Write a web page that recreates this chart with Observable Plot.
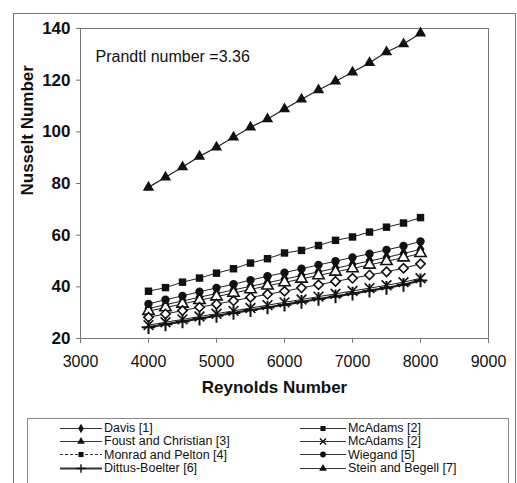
<!DOCTYPE html>
<html><head><meta charset="utf-8">
<script src="https://cdn.jsdelivr.net/npm/d3@7"></script>
<script src="https://cdn.jsdelivr.net/npm/@observablehq/plot@0.6"></script>
<style>
body{margin:0;background:#fff;font-family:"Liberation Sans",Arial,sans-serif;}
#wrap{position:relative;width:517px;height:483px;overflow:hidden;background:#fff;}
#chart{position:absolute;left:0;top:0;}
#outer{position:absolute;left:13px;top:13px;width:501px;height:480px;border:1px solid #777;border-bottom:none;pointer-events:none;}
#legend{position:absolute;left:27px;top:418px;width:480px;height:80px;border:1px solid #888;}
.item{position:absolute;font-size:12.5px;line-height:12px;color:#111;display:flex;align-items:center;white-space:nowrap;height:12px;}
.item svg{display:block;margin-right:2px;}
</style></head><body>
<div id="wrap"><div id="chart"></div><div id="outer"></div><div id="legend"></div></div>
<script>
// ---- data ----
const reynolds = [4000,4250,4500,4750,5000,5250,5500,5750,6000,6250,6500,6750,7000,7250,7500,7750,8000];
const steinBegell   = [78.5,82.4,86.4,90.5,94.0,97.9,101.8,105.0,108.8,112.6,116.2,119.6,123.1,126.7,130.9,134.0,138.2];
const mcAdamsSquare = [38.3,39.7,41.8,43.4,45.3,47.0,49.2,50.9,53.1,54.1,56.0,58.0,59.3,61.2,63.1,64.7,66.8];
const wiegand       = [33.4,35.0,36.5,38.1,39.6,41.0,42.6,44.1,45.5,47.0,48.5,49.9,51.4,52.8,54.3,55.8,57.6];
const davis         = [31.6,33.1,34.5,36.0,37.4,38.8,40.2,41.6,43.0,44.4,45.8,47.2,48.6,50.0,51.4,52.9,54.5];
const foustChristian= [30.6,32.0,33.4,34.8,36.2,37.6,39.0,40.4,41.7,43.1,44.4,45.8,47.1,48.5,49.9,51.3,53.0];
const monradPelton  = [28.2,29.5,30.8,32.1,33.3,34.6,35.9,37.1,38.3,39.6,40.8,42.1,43.3,44.6,45.8,47.2,48.9];
const mcAdamsX      = [25.2,26.3,27.4,28.5,29.6,30.7,31.8,32.9,34.0,35.1,36.2,37.3,38.4,39.5,40.6,41.8,43.3];
const dittusBoelter = [24.4,25.5,26.6,27.7,28.8,29.9,31.0,32.0,33.1,34.2,35.3,36.3,37.4,38.5,39.6,40.8,42.5];
const xTicks = [3000,4000,5000,6000,7000,8000,9000];
const yTicks = [20,40,60,80,100,120,140];
const seriesNames = ["Davis [1]","McAdams [2]","Foust and Christian [3]","McAdams [2]","Monrad and Pelton [4]","Wiegand [5]","Dittus-Boelter [6]","Stein and Begell [7]"];

// style per series (order = legend order)
const series = [
  {name:seriesNames[0], values:davis,          symbol:"diamond", fill:"#111", lw:1},
  {name:seriesNames[1], values:mcAdamsSquare,  symbol:"square",  fill:"#111", lw:1},
  {name:seriesNames[2], values:foustChristian, symbol:"triangle",fill:"#fff", lw:1},
  {name:seriesNames[3], values:mcAdamsX,       symbol:"times",   fill:"none", lw:1},
  {name:seriesNames[4], values:monradPelton,   symbol:"diamond2",fill:"#fff", lw:1},
  {name:seriesNames[5], values:wiegand,        symbol:"circle",  fill:"#111", lw:1},
  {name:seriesNames[6], values:dittusBoelter,  symbol:"plus",    fill:"none", lw:2.2},
  {name:seriesNames[7], values:steinBegell,    symbol:"triangle",fill:"#111", lw:1.2}
];

const marks = [Plot.frame({stroke:"#777"})];
for (const s of series) {
  const data = s.values.map((v,i)=>({re:reynolds[i], nu:v}));
  marks.push(Plot.line(data,{x:"re",y:"nu",stroke:"#222",strokeWidth:s.lw}));
}
for (const s of series) {
  const data = s.values.map((v,i)=>({re:reynolds[i], nu:v}));
  const stroked = s.symbol==="times"||s.symbol==="plus"||s.fill==="#fff";
  marks.push(Plot.dot(data,{x:"re",y:"nu",symbol:s.symbol,r:s.symbol==="times"||s.symbol==="plus"?4.5:4.2,
    fill:s.fill, stroke:stroked?"#111":"none", strokeWidth:s.symbol==="plus"?2:1.6}));
}
marks.push(
  Plot.axisY({ticks:yTicks, tickSize:4, tickPadding:6, fontSize:17, fontWeight:"bold", label:null, stroke:"#777"}),
  Plot.axisX({ticks:xTicks, tickFormat:d3.format("d"), tickSize:5, tickPadding:12, fontSize:16, label:null, stroke:"#777"}),
  Plot.text(["Reynolds Number"],{frameAnchor:"bottom", dx:-10, dy:54, fontSize:17, fontWeight:"bold"}),
  Plot.text(["Nusselt Number"],{frameAnchor:"left", dx:-53, dy:12, rotate:-90, fontSize:17, fontWeight:"bold"}),
  Plot.text(["Prandtl number =3.36"],{frameAnchor:"top-left", dx:15, dy:22, textAnchor:"start", fontSize:16})
);

const chart = Plot.plot({
  width:517, height:418,
  marginLeft:80, marginRight:29, marginTop:28, marginBottom:80,
  style:{background:"transparent", fontFamily:"'Liberation Sans', Arial, sans-serif", color:"#111"},
  x:{domain:[3000,9000], axis:null},
  y:{domain:[20,140], axis:null},
  marks
});
document.getElementById("chart").appendChild(chart);

// legend
const legend = document.getElementById("legend");
const symbolTypes = {diamond:d3.symbolDiamond, square:d3.symbolSquare, triangle:d3.symbolTriangle, times:d3.symbolTimes,
  diamond2:d3.symbolDiamond2, circle:d3.symbolCircle, plus:d3.symbolPlus};
const symPath = (sym)=> d3.symbol(symbolTypes[sym], 26)();
series.forEach((s,i)=>{
  const col = i%2, row = Math.floor(i/2);
  const legendMarker = i===4 ? "square" : s.symbol;
  const legendFill = i===4 || i===2 ? "#111" : s.fill;
  const div = document.createElement("div");
  div.className = "item";
  div.style.left = (col===0 ? 32 : 272) + "px";
  div.style.top = (3 + row*13.4) + "px";
  const w = col===0 ? 42 : 46;
  const stroked = legendMarker==="times"||legendMarker==="plus";
  div.innerHTML = `<svg width="${w}" height="11"><line x1="0" x2="${w}" y1="5.5" y2="5.5" stroke="#333" stroke-width="${s.lw>2?2:1}" ${i===4?'stroke-dasharray="3,2"':''}/>`+
    `<path transform="translate(${w/2},5.5)" d="${symPath(legendMarker)}" fill="${stroked?'none':legendFill}" stroke="${stroked?'#111':'none'}" stroke-width="1.4"/></svg><span>${s.name}</span>`;
  legend.appendChild(div);
});
</script>
</body></html>
